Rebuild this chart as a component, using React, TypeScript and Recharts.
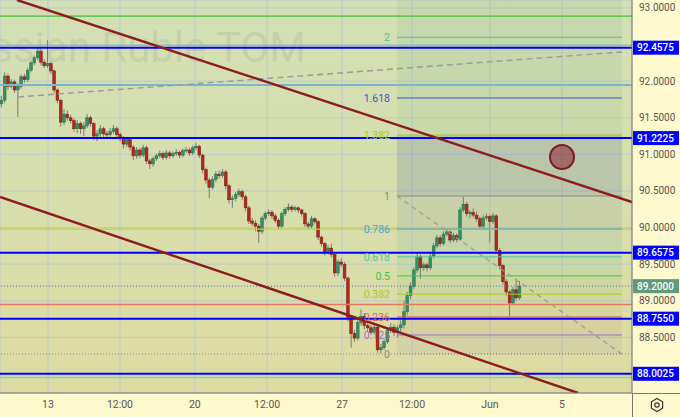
import React from 'react';
import {
  ComposedChart,
  XAxis,
  YAxis,
  CartesianGrid,
  Bar,
  ReferenceLine,
  ReferenceArea,
  ReferenceDot,
} from 'recharts';

const FONT = "Roboto, 'DejaVu Sans', Arial, sans-serif";
const WATERMARK = 'Russian Ruble TOM';

// 2-hour candles: [open, high, low, close]
const CANDLES: number[][] = [
  [91.69, 91.80, 91.64, 91.74], [91.74, 92.12, 91.70, 92.07], [92.07, 92.10, 91.88, 91.93], [91.93, 92.03, 91.90, 91.99],
  [91.99, 92.02, 91.84, 91.88], [91.88, 91.97, 91.51, 91.93], [91.93, 92.09, 91.90, 92.06], [92.06, 92.10, 91.98, 92.02],
  [92.02, 92.19, 91.99, 92.15], [92.15, 92.28, 92.12, 92.25], [92.25, 92.35, 92.22, 92.32], [92.32, 92.45, 92.29, 92.41],
  [92.41, 92.44, 92.22, 92.26], [92.26, 92.30, 92.18, 92.21], [92.21, 92.56, 92.18, 92.24], [92.24, 92.27, 92.10, 92.14],
  [92.14, 92.16, 91.84, 91.88], [91.88, 91.90, 91.70, 91.74], [91.74, 91.76, 91.38, 91.44], [91.44, 91.62, 91.40, 91.55],
  [91.55, 91.60, 91.46, 91.50], [91.50, 91.54, 91.42, 91.46], [91.46, 91.49, 91.31, 91.35], [91.35, 91.47, 91.29, 91.42],
  [91.42, 91.45, 91.28, 91.35], [91.35, 91.44, 91.25, 91.39], [91.39, 91.55, 91.36, 91.50], [91.50, 91.53, 91.38, 91.42],
  [91.42, 91.44, 91.20, 91.25], [91.25, 91.33, 91.18, 91.28], [91.28, 91.40, 91.24, 91.35], [91.35, 91.38, 91.24, 91.28],
  [91.28, 91.32, 91.22, 91.27], [91.27, 91.36, 91.24, 91.31], [91.31, 91.40, 91.28, 91.35], [91.35, 91.38, 91.22, 91.27],
  [91.27, 91.30, 91.18, 91.22], [91.22, 91.25, 91.08, 91.14], [91.14, 91.24, 91.10, 91.20], [91.20, 91.22, 91.05, 91.10],
  [91.10, 91.13, 90.92, 90.98], [90.98, 91.10, 90.94, 91.06], [91.06, 91.09, 90.95, 90.99], [90.99, 91.13, 90.96, 91.09],
  [91.09, 91.12, 90.87, 90.91], [90.91, 90.94, 90.80, 90.87], [90.87, 90.97, 90.83, 90.94], [90.94, 91.01, 90.91, 90.98],
  [90.98, 91.05, 90.95, 91.01], [91.01, 91.04, 90.92, 90.96], [90.96, 91.06, 90.93, 91.02], [91.02, 91.05, 90.94, 90.98],
  [90.98, 91.04, 90.95, 91.01], [91.01, 91.07, 90.98, 91.03], [91.03, 91.05, 90.95, 90.99], [90.99, 91.08, 90.96, 91.05],
  [91.05, 91.10, 91.02, 91.06], [91.06, 91.09, 90.98, 91.02], [91.02, 91.12, 90.99, 91.09], [91.09, 91.16, 91.06, 91.11],
  [91.11, 91.13, 90.95, 90.99], [90.99, 91.01, 90.74, 90.79], [90.79, 90.82, 90.60, 90.65], [90.65, 90.68, 90.40, 90.55],
  [90.55, 90.70, 90.52, 90.66], [90.66, 90.77, 90.62, 90.73], [90.73, 90.78, 90.67, 90.71], [90.71, 90.80, 90.68, 90.76],
  [90.76, 90.79, 90.52, 90.57], [90.57, 90.60, 90.33, 90.38], [90.38, 90.44, 90.27, 90.40], [90.40, 90.49, 90.36, 90.45],
  [90.45, 90.53, 90.42, 90.49], [90.49, 90.52, 90.38, 90.42], [90.42, 90.45, 90.22, 90.27], [90.27, 90.30, 90.05, 90.09],
  [90.09, 90.13, 90.02, 90.06], [90.06, 90.10, 89.95, 90.02], [90.02, 90.05, 89.79, 89.95], [89.95, 90.16, 89.91, 90.13],
  [90.13, 90.22, 90.10, 90.19], [90.19, 90.25, 90.16, 90.21], [90.21, 90.24, 90.12, 90.16], [90.16, 90.19, 90.06, 90.10],
  [90.10, 90.13, 89.98, 90.02], [90.02, 90.22, 89.99, 90.19], [90.19, 90.28, 90.16, 90.25], [90.25, 90.33, 90.22, 90.28],
  [90.28, 90.31, 90.21, 90.25], [90.25, 90.30, 90.22, 90.27], [90.27, 90.29, 90.20, 90.24], [90.24, 90.26, 90.15, 90.19],
  [90.19, 90.21, 90.01, 90.05], [90.05, 90.08, 89.97, 90.02], [90.02, 90.16, 89.99, 90.12], [90.12, 90.14, 90.04, 90.08],
  [90.08, 90.10, 89.83, 89.87], [89.87, 89.89, 89.74, 89.78], [89.78, 89.80, 89.62, 89.67], [89.67, 89.76, 89.64, 89.72],
  [89.72, 89.78, 89.59, 89.63], [89.63, 89.66, 89.33, 89.38], [89.38, 89.56, 89.34, 89.53], [89.53, 89.58, 89.46, 89.50],
  [89.50, 89.53, 89.27, 89.31], [89.31, 89.33, 88.72, 88.77], [88.77, 88.80, 88.36, 88.55], [88.55, 88.60, 88.44, 88.49],
  [88.49, 88.74, 88.46, 88.70], [88.70, 88.88, 88.66, 88.79], [88.79, 88.83, 88.61, 88.66], [88.66, 88.70, 88.58, 88.63],
  [88.63, 88.67, 88.53, 88.57], [88.57, 88.68, 88.54, 88.64], [88.64, 88.66, 88.29, 88.33], [88.33, 88.41, 88.28, 88.36],
  [88.36, 88.48, 88.33, 88.44], [88.44, 88.64, 88.41, 88.60], [88.60, 88.70, 88.56, 88.64], [88.64, 88.68, 88.52, 88.57],
  [88.57, 88.67, 88.50, 88.63], [88.63, 88.73, 88.58, 88.67], [88.67, 89.00, 88.62, 88.85], [88.85, 89.12, 88.80, 89.07],
  [89.07, 89.25, 89.02, 89.20], [89.20, 89.46, 89.16, 89.42], [89.42, 89.66, 89.38, 89.60], [89.60, 89.63, 89.30, 89.45],
  [89.45, 89.53, 89.41, 89.49], [89.49, 89.52, 89.40, 89.45], [89.45, 89.65, 89.42, 89.61], [89.61, 89.79, 89.58, 89.75],
  [89.75, 89.90, 89.72, 89.86], [89.86, 89.89, 89.74, 89.78], [89.78, 89.95, 89.75, 89.91], [89.91, 89.98, 89.88, 89.94],
  [89.94, 89.96, 89.79, 89.83], [89.83, 89.93, 89.80, 89.89], [89.89, 89.92, 89.80, 89.84], [89.84, 90.28, 89.82, 90.24],
  [90.24, 90.42, 90.21, 90.32], [90.32, 90.35, 90.15, 90.19], [90.19, 90.24, 90.13, 90.21], [90.21, 90.26, 90.14, 90.17],
  [90.17, 90.22, 90.08, 90.12], [90.12, 90.15, 89.98, 90.02], [90.02, 90.17, 89.99, 90.13], [90.13, 90.19, 90.10, 90.15],
  [90.15, 90.18, 89.80, 90.08], [90.08, 90.20, 90.05, 90.16], [90.16, 90.18, 89.64, 89.69], [89.69, 89.72, 89.43, 89.48],
  [89.48, 89.50, 89.22, 89.26], [89.26, 89.30, 89.07, 89.12], [89.12, 89.15, 88.78, 88.97], [88.97, 89.19, 88.94, 89.15],
  [89.15, 89.28, 89.00, 89.04], [89.04, 89.27, 89.01, 89.20],
];

// time axis (candle index units)
const TIME_TICKS = [14.1, 35.9, 58.6, 80.5, 103.2, 124.4, 148, 169.8];
const TIME_LABELS = ['13', '12:00', '20', '12:00', '27', '12:00', 'Jun', '5'];
const X_DOMAIN = [-0.45, 191.06];

// price axis
const PRICE_TICKS = [88, 88.5, 89, 89.5, 90, 90.5, 91, 91.5, 92, 92.5, 93];
const HIDDEN_PRICE_TICKS = [88, 92.5];
const Y_DOMAIN = [87.74, 93.109];

// key horizontal levels (blue, with axis labels)
const KEY_LEVELS = [92.4575, 91.2225, 89.6575, 88.755, 88.0025];
const LAST_PRICE = 89.2;

// thin coloured horizontal lines
const THIN_LEVELS = [
  { price: 92.89, color: '#3fbf3f', width: 1.2 },
  { price: 92.49, color: '#5fd0b0', width: 1 },
  { price: 91.948, color: '#7ab6d2', width: 2 },
  { price: 89.98, color: '#b6d24a', width: 1.2 },
  { price: 88.949, color: '#e2785c', width: 1.3 },
  { price: 87.952, color: '#84d6a8', width: 1.5 },
];
const ZERO_DOTTED = 88.273;

// trend-based fib extension
const FIB_X = [119.85, 188.0];
const FIB_LEVELS = [
  { label: '2', price: 92.6, color: '#4cc294' },
  { label: '1.618', price: 91.77, color: '#4153cf' },
  { label: '1.382', price: 91.265, color: '#a6c93a' },
  { label: '1', price: 90.431, color: '#8a8a8a' },
  { label: '0.786', price: 89.98, color: '#4aa3d8' },
  { label: '0.618', price: 89.6, color: '#4fcaa6' },
  { label: '0.5', price: 89.34, color: '#45c045' },
  { label: '0.382', price: 89.09, color: '#a6c93a' },
  { label: '0.236', price: 88.78, color: '#e35b5b' },
  { label: '0.125', price: 88.533, color: '#9474cc' },
  { label: '0', price: 88.273, color: '#8a8a8a' },
];
const FIB_BANDS = [
  { from: 92.6, to: 93.3, fill: '#3f9a74', opacity: 0.09 },
  { from: 91.77, to: 92.6, fill: '#3f9a74', opacity: 0.09 },
  { from: 91.265, to: 91.77, fill: '#3f9a74', opacity: 0.07 },
  { from: 90.431, to: 91.265, fill: '#5f74a4', opacity: 0.24 },
  { from: 89.98, to: 90.431, fill: '#6f8a94', opacity: 0.14 },
  { from: 89.6, to: 89.98, fill: '#4a9ac0', opacity: 0.11 },
  { from: 89.34, to: 89.6, fill: '#3fb890', opacity: 0.1 },
  { from: 89.09, to: 89.34, fill: '#45a845', opacity: 0.08 },
  { from: 88.78, to: 89.09, fill: '#9aa83a', opacity: 0.09 },
  { from: 88.533, to: 88.78, fill: '#c05050', opacity: 0.08 },
  { from: 88.273, to: 88.533, fill: '#8a70b8', opacity: 0.09 },
];

// drawings
const TREND_UPPER = [{ x: 4.7, y: 93.109 }, { x: 191.06, y: 90.349 }];
const TREND_LOWER = [{ x: -0.45, y: 90.418 }, { x: 174.7, y: 87.74 }];
const TREND_DASHED = [{ x: 5, y: 91.784 }, { x: 188, y: 92.399 }];
const FIB_DIAG = [{ x: 119.85, y: 90.431 }, { x: 188, y: 88.273 }];
const CIRCLE = { x: 169.85, y: 90.964 };

const DATA = CANDLES.map((c, i) => ({ i, o: c[0], h: c[1], l: c[2], c: c[3], range: [c[2], c[1]] }));

const UP = '#33905f';
const UP_EDGE = '#24704a';
const DOWN = '#b3281e';
const DOWN_EDGE = '#7d1a12';
const WICK = '#7a7a7a';

function Candle(props: any) {
  const { x, y, width, height, payload } = props;
  if (payload == null || x == null) return null;
  const top = Math.min(y, y + height);
  const bot = Math.max(y, y + height);
  const span = payload.h - payload.l;
  const k = span > 0 ? (bot - top) / span : 0;
  const cx = x + width / 2;
  const up = payload.c >= payload.o;
  const bTop = top + (payload.h - Math.max(payload.o, payload.c)) * k;
  const bBot = top + (payload.h - Math.min(payload.o, payload.c)) * k;
  return (
    <g>
      <line x1={cx} x2={cx} y1={top} y2={bot} stroke={WICK} strokeWidth={1} />
      <rect
        x={cx - 1.4}
        y={bTop}
        width={2.8}
        height={Math.max(1, bBot - bTop)}
        fill={up ? UP : DOWN}
        stroke={up ? UP_EDGE : DOWN_EDGE}
        strokeWidth={0.5}
      />
    </g>
  );
}

const boxLabel = (text: string, fill: string) => (props: any) => {
  const vb = props.viewBox || {};
  const x = (vb.x ?? 0) + (vb.width ?? 0);
  const y = vb.y ?? 0;
  return (
    <g>
      <rect x={x + 1} y={y - 7} width={46} height={14} fill={fill} />
      <text x={x + 5} y={y + 3.6} fill="#ffffff" fontSize={10} fontWeight={500} fontFamily={FONT}>
        {text}
      </text>
    </g>
  );
};

function PriceTick(props: any) {
  const { x, y, payload } = props;
  if (HIDDEN_PRICE_TICKS.includes(payload.value)) return <g />;
  return (
    <text x={x - 1} y={y} dy={3.5} fill="#555555" fontSize={10} fontFamily={FONT} textAnchor="start">
      {Number(payload.value).toFixed(4)}
    </text>
  );
}

export default function App() {
  return (
    <div
      style={{
        position: 'fixed',
        left: 0,
        top: 0,
        width: 680,
        height: 417,
        background: '#fffacd',
        overflow: 'hidden',
      }}
    >
      <div
        style={{
          position: 'absolute',
          left: 0,
          top: 0,
          width: 632,
          height: 393,
          background: 'linear-gradient(to bottom, #d3dfb4 0%, #d7deac 50%, #dedba1 100%)',
        }}
      />
      <svg style={{ position: 'absolute', left: 0, top: 0 }} width={632} height={393}>
        <text
          x={306}
          y={62}
          textAnchor="end"
          fontSize={42}
          fontFamily={FONT}
          fill="#7f7f7f"
          fillOpacity={0.17}
        >
          {WATERMARK}
        </text>
      </svg>
      <div style={{ position: 'absolute', left: 0, top: 0 }}>
        <ComposedChart width={680} height={417} data={DATA} margin={{ top: 0, right: 0, bottom: 0, left: 0 }}>
          <CartesianGrid stroke="#b3c4d8" strokeOpacity={0.75} />
          <XAxis
            dataKey="i"
            type="number"
            domain={X_DOMAIN}
            allowDataOverflow
            ticks={TIME_TICKS}
            tickFormatter={(v: number) => TIME_LABELS[TIME_TICKS.indexOf(v)] ?? ''}
            tickLine={false}
            axisLine={{ stroke: '#777777' }}
            height={24}
            tick={{ fill: '#555555', fontSize: 10.5, fontFamily: FONT }}
            interval={0}
          />
          <YAxis
            orientation="right"
            type="number"
            domain={Y_DOMAIN}
            allowDataOverflow
            ticks={PRICE_TICKS}
            width={48}
            tickLine={false}
            axisLine={{ stroke: '#777777' }}
            tick={<PriceTick />}
            interval={0}
          />
          {FIB_BANDS.map((b, k) => (
            <ReferenceArea
              key={'band' + k}
              x1={FIB_X[0]}
              x2={FIB_X[1]}
              y1={b.from}
              y2={b.to}
              fill={b.fill}
              fillOpacity={b.opacity}
              stroke="none"
              ifOverflow="hidden"
            />
          ))}
          <Bar dataKey="range" barSize={3} shape={<Candle />} isAnimationActive={false} />
          {THIN_LEVELS.map((l, k) => (
            <ReferenceLine key={'thin' + k} y={l.price} stroke={l.color} strokeWidth={l.width} />
          ))}
          <ReferenceLine y={ZERO_DOTTED} stroke="#8c8c8c" strokeDasharray="1 2" strokeWidth={1} />
          {FIB_LEVELS.map((f, k) => (
            <ReferenceLine
              key={'fib' + k}
              segment={[
                { x: FIB_X[0], y: f.price },
                { x: FIB_X[1], y: f.price },
              ]}
              stroke={f.color}
              strokeWidth={1}
              strokeDasharray={f.label === '0' ? '1 2' : undefined}
              ifOverflow="hidden"
            />
          ))}
          <ReferenceLine
            segment={TREND_DASHED}
            stroke="#9a9a9a"
            strokeWidth={1.4}
            strokeDasharray="6 4"
            ifOverflow="hidden"
          />
          <ReferenceLine
            segment={FIB_DIAG}
            stroke="#9a9a9a"
            strokeWidth={1.2}
            strokeDasharray="5 4"
            ifOverflow="hidden"
          />
          <ReferenceLine
            y={LAST_PRICE}
            stroke="#5567b0"
            strokeDasharray="1 2"
            strokeWidth={1}
            label={boxLabel(LAST_PRICE.toFixed(4), '#5f9a7b')}
          />
          {KEY_LEVELS.map((p, k) => (
            <ReferenceLine
              key={'key' + k}
              y={p}
              stroke="#0000ff"
              strokeWidth={2}
              label={boxLabel(p.toFixed(4), '#0000ff')}
            />
          ))}
          <ReferenceLine segment={TREND_UPPER} stroke="#8e1b1f" strokeWidth={2.4} ifOverflow="hidden" />
          <ReferenceLine segment={TREND_LOWER} stroke="#8e1b1f" strokeWidth={2.4} ifOverflow="hidden" />
          {FIB_LEVELS.map((f, k) => (
            <ReferenceDot
              key={'fl' + k}
              x={FIB_X[0]}
              y={f.price}
              r={1}
              ifOverflow="visible"
              shape={(p: any) => (
                <text
                  x={p.cx - 7}
                  y={p.cy}
                  dy={3.8}
                  textAnchor="end"
                  fill={f.color}
                  fontSize={10.5}
                  fontFamily={FONT}
                >
                  {f.label}
                </text>
              )}
            />
          ))}
          <ReferenceDot
            x={CIRCLE.x}
            y={CIRCLE.y}
            r={12}
            fill="#8b2233"
            fillOpacity={0.55}
            stroke="#7f1a28"
            strokeWidth={2}
          />
        </ComposedChart>
      </div>
      <svg style={{ position: 'absolute', left: 0, top: 0, pointerEvents: 'none' }} width={680} height={417}>
        <line x1={632} x2={680} y1={393.5} y2={393.5} stroke="#777777" strokeWidth={1} />
        <line x1={632.5} x2={632.5} y1={393} y2={417} stroke="#777777" strokeWidth={1} />
        <polygon
          points="657,398.5 662.6,401.75 662.6,408.25 657,411.5 651.4,408.25 651.4,401.75"
          fill="none"
          stroke="#333333"
          strokeWidth={1.2}
        />
        <circle cx={657} cy={405} r={2.2} fill="none" stroke="#333333" strokeWidth={1.2} />
      </svg>
    </div>
  );
}
